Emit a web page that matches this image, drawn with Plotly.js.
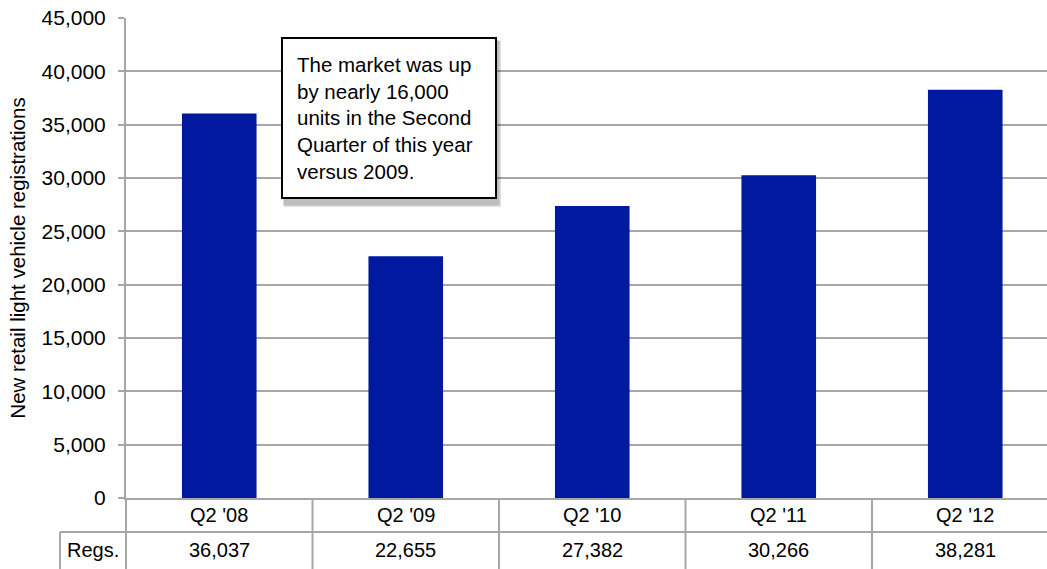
<!DOCTYPE html>
<html>
<head>
<meta charset="utf-8">
<script src="https://cdn.plot.ly/plotly-3.0.1.min.js"></script>
<style>html,body{margin:0;padding:0;background:#fff;}#chart{width:1047px;height:569px;}</style>
</head>
<body>
<div id="chart"></div>
<script>
// ---- data ----
var categories = ["Q2 '08", "Q2 '09", "Q2 '10", "Q2 '11", "Q2 '12"];
var registrations = [36037, 22655, 27382, 30266, 38281];
var rowLabel = "Regs.";
var yTitle = "New retail light vehicle registrations";
var calloutLines = ["The market was up", "by nearly 16,000", "units in the Second", "Quarter of this year", "versus 2009."];

// ---- styles ----
var FONT = "'Liberation Sans', Arial, sans-serif";
var BAR = "#00199f";
var GRID = "#a6a6a6";
var W = 1047, H = 569, ML = 126, MT = 18, MB = 71;
var plotW = W - ML, plotH = H - MT - MB;
var catW = 186.5;
var xMax = -0.5 + plotW / catW;
function py(px) { return (H - MB - px) / plotH; } // pixel y -> paper
function pxx(px) { return (px - ML) / plotW; }   // pixel x -> paper

function fmt(v) { return v.toLocaleString('en-US'); }

var shapes = [];
// axis line continuing through the table
shapes.push({type: 'line', xref: 'paper', yref: 'paper', x0: 0, x1: 0, y0: 0, y1: py(H + 5), line: {color: GRID, width: 2}});
// table vertical separators between categories
for (var i = 0; i < categories.length - 1; i++) {
  shapes.push({type: 'line', xref: 'x', yref: 'paper', x0: i + 0.5, x1: i + 0.5, y0: 0, y1: py(H + 5), line: {color: GRID, width: 2}});
}
// horizontal row separator
shapes.push({type: 'line', xref: 'paper', yref: 'paper', x0: pxx(60), x1: 1, y0: py(532), y1: py(532), line: {color: GRID, width: 2}});
// row label box left edge
shapes.push({type: 'line', xref: 'paper', yref: 'paper', x0: pxx(60), x1: pxx(60), y0: py(532), y1: py(H + 5), line: {color: GRID, width: 2}});
// callout shadow (soft)
shapes.push({type: 'rect', xref: 'paper', yref: 'paper', x0: pxx(284), x1: pxx(501), y0: py(207), y1: py(41), fillcolor: 'rgba(0,0,0,0.12)', line: {width: 0}, layer: 'above'});
shapes.push({type: 'rect', xref: 'paper', yref: 'paper', x0: pxx(283), x1: pxx(499.5), y0: py(205.5), y1: py(40), fillcolor: 'rgba(0,0,0,0.15)', line: {width: 0}, layer: 'above'});

var annotations = [];
for (var j = 0; j < categories.length; j++) {
  annotations.push({xref: 'x', yref: 'paper', x: j, y: py(515), text: categories[j], showarrow: false, xanchor: 'center', yanchor: 'middle', font: {family: FONT, size: 20, color: '#000'}});
  annotations.push({xref: 'x', yref: 'paper', x: j, y: py(550), text: fmt(registrations[j]), showarrow: false, xanchor: 'center', yanchor: 'middle', font: {family: FONT, size: 20, color: '#000'}});
}
annotations.push({xref: 'paper', yref: 'paper', x: pxx(93), y: py(550), text: rowLabel, showarrow: false, xanchor: 'center', yanchor: 'middle', font: {family: FONT, size: 20, color: '#000'}});
// callout
annotations.push({xref: 'paper', yref: 'paper', x: pxx(281), y: py(37), xanchor: 'left', yanchor: 'top',
  text: calloutLines.join('<br>'), showarrow: false, align: 'left', width: 184,
  bgcolor: '#fff', bordercolor: '#000', borderwidth: 2, borderpad: 14,
  font: {family: FONT, size: 20.5, color: '#000'}});

var trace = {
  type: 'bar', x: categories.map(function (c, k) { return k; }), y: registrations,
  marker: {color: BAR, line: {width: 0}}, hoverinfo: 'none'
};

var layout = {
  width: W, height: H,
  margin: {l: ML, r: 0, t: MT, b: MB, pad: 0},
  paper_bgcolor: '#fff', plot_bgcolor: '#fff',
  bargap: 0.6,
  showlegend: false,
  font: {family: FONT, color: '#000'},
  xaxis: {range: [-0.5, xMax], showticklabels: false, showgrid: false, zeroline: false,
    showline: true, linecolor: GRID, linewidth: 2, ticks: '', fixedrange: true},
  yaxis: {range: [0, 45000], dtick: 5000, tickformat: ',', showgrid: true, gridcolor: GRID, gridwidth: 2,
    zeroline: false, showline: true, linecolor: GRID, linewidth: 2,
    ticks: 'outside', ticklen: 6, tickcolor: GRID, tickwidth: 2, ticklabelstandoff: 8,
    tickfont: {family: FONT, size: 21, color: '#000'},
    title: {text: yTitle, font: {family: FONT, size: 20.5, color: '#000'}, standoff: 10}},
  shapes: shapes,
  annotations: annotations
};

Plotly.newPlot('chart', [trace], layout, {displayModeBar: false, staticPlot: true});
</script>
</body>
</html>
